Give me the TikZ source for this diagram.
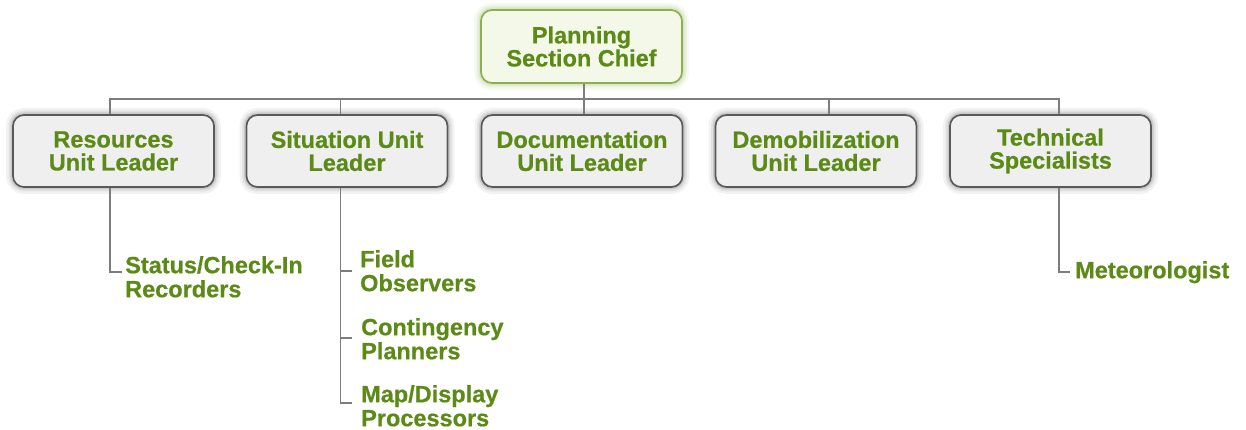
\documentclass[tikz,border=0pt]{standalone}
\usepackage{fontspec}
\setmainfont{Liberation Sans}[BoldFeatures={FakeBold=0.6}]
\usetikzlibrary{calc}
\definecolor{txtgreen}{RGB}{92,138,22}
\definecolor{boxborder}{RGB}{90,90,90}
\definecolor{boxfill}{RGB}{239,239,239}
\definecolor{chiefborder}{RGB}{140,176,80}
\definecolor{chieffill}{RGB}{243,248,232}
\definecolor{connline}{RGB}{125,125,125}
\begin{document}
\begin{tikzpicture}[x=1pt,y=-1pt,
  basebox/.style={line width=1.7pt, rounded corners=11pt,
    minimum width=201pt, minimum height=72pt, inner sep=0pt, align=center,
    font=\fontsize{23.5}{23}\selectfont\bfseries, text=txtgreen},
  unitbox/.style={basebox, draw=boxborder, fill=boxfill,
    preaction={draw=black, draw opacity=0.05, line width=14pt},
    preaction={draw=black, draw opacity=0.07, line width=9pt},
    preaction={draw=black, draw opacity=0.10, line width=5pt}},
  chiefbox/.style={basebox, draw=chiefborder, fill=chieffill, minimum height=73pt,
    preaction={draw=chiefborder, draw opacity=0.08, line width=14pt},
    preaction={draw=chiefborder, draw opacity=0.12, line width=9pt},
    preaction={draw=chiefborder, draw opacity=0.16, line width=5pt}},
  leaf/.style={anchor=north west, inner sep=0pt, align=left,
    font=\fontsize{23.5}{24}\selectfont\bfseries, text=txtgreen},
  conn/.style={draw=connline, line width=1.3pt}]
\useasboundingbox (0,0) rectangle (1246,430);

\node[chiefbox] (chief) at (581.5,46.5) {Planning\\Section Chief};

\node[unitbox] (res) at (113.5,151) {Resources\\Unit Leader};
\node[unitbox] (sit) at (347,151) {Situation Unit\\Leader};
\node[unitbox] (doc) at (582,151) {Documentation\\Unit Leader};
\node[unitbox] (dem) at (816,151) {Demobilization\\Unit Leader};
\node[unitbox] (tec) at (1050.5,151) {Technical\\Specialists};

\node[leaf] (status) at (125,256) {Status/Check-In\\Recorders};
\node[leaf] (field) at (360,250) {Field\\Observers};
\node[leaf] (cont) at (361,318) {Contingency\\Planners};
\node[leaf] (map) at (361,385) {Map/Display\\Processors};
\node[leaf] (met) at (1075,261) {Meteorologist};

\coordinate (bus) at (584,99);
\draw[conn] ([xshift=2.5pt]chief.south) -- (bus);
\draw[conn] ([xshift=-3.5pt]res.north) |- (bus);
\draw[conn] ([xshift=-6.5pt]sit.north) |- (bus);
\draw[conn] ([xshift=2pt]doc.north) |- (bus);
\draw[conn] ([xshift=13pt]dem.north) |- (bus);
\draw[conn] ([xshift=8.5pt]tec.north) |- (bus);

\draw[conn] ([xshift=-3.5pt]res.south) |- ([shift={(-3,16)}]status.north west);
\draw[conn] ([xshift=-6.5pt]sit.south) |- ([shift={(-8,21)}]field.north west);
\draw[conn] ([xshift=-6.5pt]sit.south) |- ([shift={(-9,20)}]cont.north west);
\draw[conn] ([xshift=-6.5pt]sit.south) |- ([shift={(-9,18)}]map.north west);
\draw[conn] ([xshift=8.5pt]tec.south) |- ([shift={(-5,11)}]met.north west);
\end{tikzpicture}
\end{document}
